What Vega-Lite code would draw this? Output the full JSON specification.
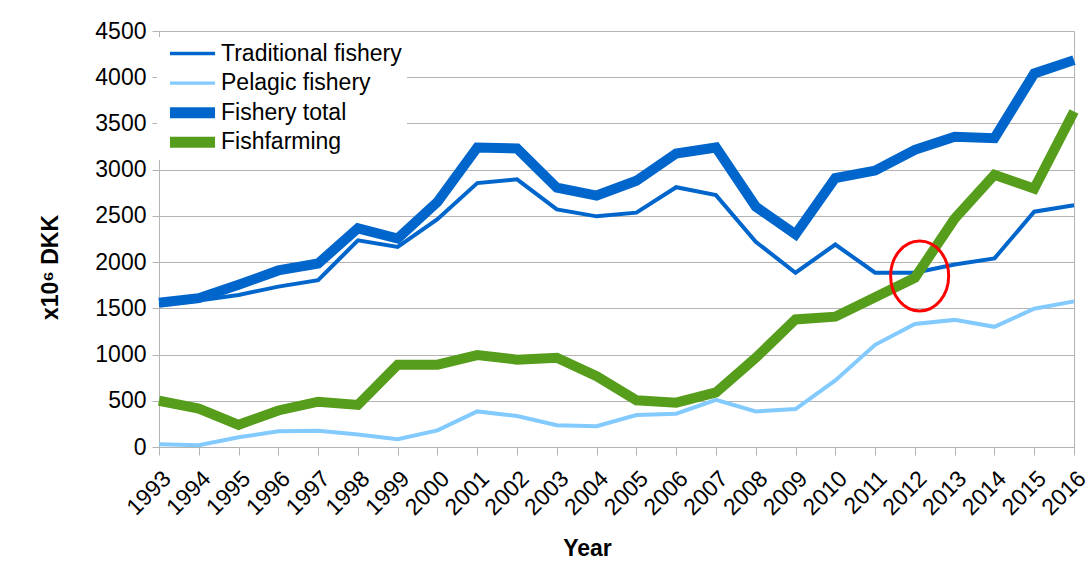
{
  "$schema": "https://vega.github.io/schema/vega-lite/v6.json",
  "width": 915,
  "height": 416,
  "autosize": {"type": "none"},
  "padding": {"left": 159, "top": 31, "right": 18, "bottom": 139},
  "background": "white",
  "datasets": {
    "fish": [
      {"year": 1993, "series": "Traditional fishery", "value": 1535},
      {"year": 1994, "series": "Traditional fishery", "value": 1585},
      {"year": 1995, "series": "Traditional fishery", "value": 1645},
      {"year": 1996, "series": "Traditional fishery", "value": 1735},
      {"year": 1997, "series": "Traditional fishery", "value": 1805},
      {"year": 1998, "series": "Traditional fishery", "value": 2235},
      {"year": 1999, "series": "Traditional fishery", "value": 2165},
      {"year": 2000, "series": "Traditional fishery", "value": 2465},
      {"year": 2001, "series": "Traditional fishery", "value": 2855},
      {"year": 2002, "series": "Traditional fishery", "value": 2895},
      {"year": 2003, "series": "Traditional fishery", "value": 2570},
      {"year": 2004, "series": "Traditional fishery", "value": 2495},
      {"year": 2005, "series": "Traditional fishery", "value": 2535},
      {"year": 2006, "series": "Traditional fishery", "value": 2810},
      {"year": 2007, "series": "Traditional fishery", "value": 2725},
      {"year": 2008, "series": "Traditional fishery", "value": 2220},
      {"year": 2009, "series": "Traditional fishery", "value": 1885},
      {"year": 2010, "series": "Traditional fishery", "value": 2190},
      {"year": 2011, "series": "Traditional fishery", "value": 1885},
      {"year": 2012, "series": "Traditional fishery", "value": 1885},
      {"year": 2013, "series": "Traditional fishery", "value": 1975},
      {"year": 2014, "series": "Traditional fishery", "value": 2040},
      {"year": 2015, "series": "Traditional fishery", "value": 2545},
      {"year": 2016, "series": "Traditional fishery", "value": 2615},
      {"year": 1993, "series": "Pelagic fishery", "value": 30},
      {"year": 1994, "series": "Pelagic fishery", "value": 20},
      {"year": 1995, "series": "Pelagic fishery", "value": 105},
      {"year": 1996, "series": "Pelagic fishery", "value": 170},
      {"year": 1997, "series": "Pelagic fishery", "value": 175},
      {"year": 1998, "series": "Pelagic fishery", "value": 135},
      {"year": 1999, "series": "Pelagic fishery", "value": 85},
      {"year": 2000, "series": "Pelagic fishery", "value": 180},
      {"year": 2001, "series": "Pelagic fishery", "value": 385},
      {"year": 2002, "series": "Pelagic fishery", "value": 335},
      {"year": 2003, "series": "Pelagic fishery", "value": 235},
      {"year": 2004, "series": "Pelagic fishery", "value": 225},
      {"year": 2005, "series": "Pelagic fishery", "value": 345},
      {"year": 2006, "series": "Pelagic fishery", "value": 360},
      {"year": 2007, "series": "Pelagic fishery", "value": 510},
      {"year": 2008, "series": "Pelagic fishery", "value": 385},
      {"year": 2009, "series": "Pelagic fishery", "value": 410},
      {"year": 2010, "series": "Pelagic fishery", "value": 720},
      {"year": 2011, "series": "Pelagic fishery", "value": 1105},
      {"year": 2012, "series": "Pelagic fishery", "value": 1330},
      {"year": 2013, "series": "Pelagic fishery", "value": 1375},
      {"year": 2014, "series": "Pelagic fishery", "value": 1300},
      {"year": 2015, "series": "Pelagic fishery", "value": 1495},
      {"year": 2016, "series": "Pelagic fishery", "value": 1575},
      {"year": 1993, "series": "Fishery total", "value": 1560},
      {"year": 1994, "series": "Fishery total", "value": 1610},
      {"year": 1995, "series": "Fishery total", "value": 1755},
      {"year": 1996, "series": "Fishery total", "value": 1910},
      {"year": 1997, "series": "Fishery total", "value": 1985},
      {"year": 1998, "series": "Fishery total", "value": 2365},
      {"year": 1999, "series": "Fishery total", "value": 2255},
      {"year": 2000, "series": "Fishery total", "value": 2650},
      {"year": 2001, "series": "Fishery total", "value": 3240},
      {"year": 2002, "series": "Fishery total", "value": 3230},
      {"year": 2003, "series": "Fishery total", "value": 2805},
      {"year": 2004, "series": "Fishery total", "value": 2720},
      {"year": 2005, "series": "Fishery total", "value": 2880},
      {"year": 2006, "series": "Fishery total", "value": 3175},
      {"year": 2007, "series": "Fishery total", "value": 3240},
      {"year": 2008, "series": "Fishery total", "value": 2600},
      {"year": 2009, "series": "Fishery total", "value": 2300},
      {"year": 2010, "series": "Fishery total", "value": 2910},
      {"year": 2011, "series": "Fishery total", "value": 2990},
      {"year": 2012, "series": "Fishery total", "value": 3215},
      {"year": 2013, "series": "Fishery total", "value": 3355},
      {"year": 2014, "series": "Fishery total", "value": 3340},
      {"year": 2015, "series": "Fishery total", "value": 4040},
      {"year": 2016, "series": "Fishery total", "value": 4185},
      {"year": 1993, "series": "Fishfarming", "value": 500},
      {"year": 1994, "series": "Fishfarming", "value": 415},
      {"year": 1995, "series": "Fishfarming", "value": 240},
      {"year": 1996, "series": "Fishfarming", "value": 395},
      {"year": 1997, "series": "Fishfarming", "value": 490},
      {"year": 1998, "series": "Fishfarming", "value": 455},
      {"year": 1999, "series": "Fishfarming", "value": 890},
      {"year": 2000, "series": "Fishfarming", "value": 890},
      {"year": 2001, "series": "Fishfarming", "value": 995},
      {"year": 2002, "series": "Fishfarming", "value": 945},
      {"year": 2003, "series": "Fishfarming", "value": 965},
      {"year": 2004, "series": "Fishfarming", "value": 765},
      {"year": 2005, "series": "Fishfarming", "value": 505},
      {"year": 2006, "series": "Fishfarming", "value": 480},
      {"year": 2007, "series": "Fishfarming", "value": 590},
      {"year": 2008, "series": "Fishfarming", "value": 965},
      {"year": 2009, "series": "Fishfarming", "value": 1380},
      {"year": 2010, "series": "Fishfarming", "value": 1410},
      {"year": 2011, "series": "Fishfarming", "value": 1620},
      {"year": 2012, "series": "Fishfarming", "value": 1830},
      {"year": 2013, "series": "Fishfarming", "value": 2470},
      {"year": 2014, "series": "Fishfarming", "value": 2945},
      {"year": 2015, "series": "Fishfarming", "value": 2795},
      {"year": 2016, "series": "Fishfarming", "value": 3630}
    ],
    "mark": [
      {"year": 2012.12, "value": 1850}
    ]
  },
  "encoding": {
    "x": {
      "field": "year",
      "type": "quantitative",
      "scale": {"domain": [1993, 2016], "nice": false, "zero": false},
      "axis": {
        "values": [1993,1994,1995,1996,1997,1998,1999,2000,2001,2002,2003,2004,2005,2006,2007,2008,2009,2010,2011,2012,2013,2014,2015,2016],
        "format": "d",
        "labelAngle": -45,
        "labelFontSize": 23,
        "labelPadding": 12,
        "labelFlush": false,
        "labelOverlap": false,
        "labelBound": false,
        "grid": false,
        "domainColor": "#b3b3b3",
        "tickColor": "#b3b3b3",
        "tickSize": 8,
        "title": "Year",
        "titleFontSize": 23,
        "titleFontWeight": "bold",
        "titleX": 428,
        "titleY": 101,
        "titleAlign": "center",
        "titleBaseline": "middle",
        "encode": {"labels": {"update": {"fontSize": {"value": 23}}}}
      }
    },
    "y": {
      "field": "value",
      "type": "quantitative",
      "scale": {"domain": [0, 4500], "nice": false},
      "axis": {
        "values": [0,500,1000,1500,2000,2500,3000,3500,4000,4500],
        "format": "d",
        "labelFontSize": 23,
        "labelPadding": 6,
        "labelFlush": false,
        "labelOverlap": false,
        "gridColor": "#b3b3b3",
        "domainColor": "#b3b3b3",
        "tickColor": "#b3b3b3",
        "tickSize": 7,
        "title": "x10⁶ DKK",
        "titleFontSize": 23,
        "titleFontWeight": "bold",
        "titleX": -109,
        "titleY": 236,
        "titleAngle": -90,
        "titleAlign": "center",
        "titleBaseline": "middle"
      }
    },
    "color": {
      "field": "series", "type": "nominal",
      "scale": {"domain": ["Traditional fishery", "Pelagic fishery", "Fishery total", "Fishfarming"], "range": ["#0066cc", "#83caff", "#0066cc", "#579d1c"]},
      "legend": {
        "title": null,
        "encode": {"symbols": {"update": {
          "shape": {"signal": "indexof(['Fishery total','Fishfarming'], datum.value) >= 0 ? 'M -1.96 -0.48 L 1.96 -0.48 L 1.96 0.48 L -1.96 0.48 Z' : 'M -1.96 -0.15 L 1.96 -0.15 L 1.96 0.15 L -1.96 0.15 Z'"},
          "fill": {"signal": "scale('color', datum.value)"},
          "fillOpacity": {"value": 1},
          "strokeWidth": {"value": 0}
        }}}
      }
    }
  },
  "layer": [
    {
      "data": {"name": "fish"},
      "transform": [{"filter": {"field": "series", "oneOf": ["Traditional fishery", "Pelagic fishery"]}}],
      "mark": {"type": "line", "strokeJoin": "miter", "strokeWidth": 4}
    },
    {
      "data": {"name": "fish"},
      "transform": [{"filter": {"field": "series", "oneOf": ["Fishery total", "Fishfarming"]}}],
      "mark": {"type": "line", "strokeJoin": "miter", "strokeWidth": 10}
    },
    {
      "data": {"name": "mark"},
      "encoding": {"color": {"value": "#ff0000"}},
      "mark": {
        "type": "point",
        "shape": "M -0.829 0 A 0.829 1 0 1 0 0.829 0 A 0.829 1 0 1 0 -0.829 0 Z",
        "size": 4900,
        "filled": false,
        "stroke": "#ff0000",
        "strokeWidth": 3,
        "opacity": 1
      }
    }
  ],
  "config": {
    "font": "Liberation Sans",
    "view": {"stroke": "#b3b3b3", "strokeWidth": 1},
    "axis": {"labelFont": "Liberation Sans", "titleFont": "Liberation Sans", "labelColor": "black", "titleColor": "black"},
    "legend": {
      "orient": "none",
      "legendX": -2,
      "legendY": 6,
      "fillColor": "white",
      "padding": 5,
      "labelFont": "Liberation Sans",
      "labelFontSize": 23,
      "labelColor": "black",
      "labelLimit": 400,
      "symbolType": "M -1.96 -0.15 L 1.96 -0.15 L 1.96 0.15 L -1.96 0.15 Z",
      "symbolSize": 529,
      "symbolOffset": 19,
      "labelOffset": 17,
      "rowPadding": 5.6,
      "symbolOpacity": 1
    }
  }
}
